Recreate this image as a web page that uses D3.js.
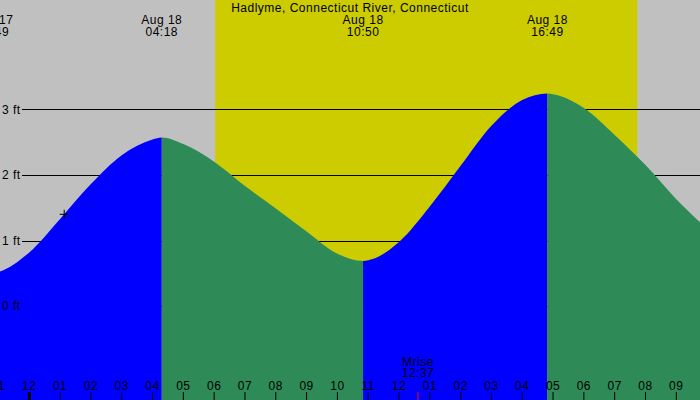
<!DOCTYPE html>
<html>
<head>
<meta charset="utf-8">
<script src="https://cdn.jsdelivr.net/npm/d3@7"></script>
<style>
  html, body { margin: 0; padding: 0; background: #fff; }
  svg { display: block; font-family: "Liberation Sans", Arial, sans-serif; letter-spacing: 0.5px; }
</style>
</head>
<body>
<div id="chart"></div>
<script>
const title = "Hadlyme, Connecticut River, Connecticut";

// high / low tide events
const extremeTimes = ["2023-08-17T22:49", "2023-08-18T04:18", "2023-08-18T10:50", "2023-08-18T16:49"];
const extremeFeet = [0.50, 2.57, 0.69, 3.24];

// hourly water level (ft) starting Aug 17 23:00
const hourStart = "2023-08-17T23:00";
const hourlyFeet = [0.52, 0.82, 1.33, 1.86, 2.30, 2.54, 2.47, 2.20, 1.83, 1.49, 1.14, 0.80,
  0.70, 0.98, 1.52, 2.14, 2.75, 3.14, 3.23, 3.02, 2.61, 2.15, 1.63, 1.18];

const sunriseTime = "2023-08-18T06:02";
const sunsetTime = "2023-08-18T19:44";
const moonriseTime = "2023-08-18T12:37";
const markerTime = "2023-08-18T01:08";
const markerFeet = 1.40;

const feetTicks = [0, 1, 2, 3];

const width = 700, height = 400;
const parse = d3.timeParse("%Y-%m-%dT%H:%M");

// merge hourly readings with the extremes
const t0 = parse(hourStart);
const points = hourlyFeet.map((v, i) => ({ date: d3.timeHour.offset(t0, i), ft: v }))
  .concat(extremeTimes.map((t, i) => ({ date: parse(t), ft: extremeFeet[i] })))
  .sort((a, b) => a.date - b.date);

const x = d3.scaleTime()
  .domain([parse("2023-08-18T00:00"), parse("2023-08-18T21:00")])
  .range([29.3, 676.3]);

const y = d3.scaleLinear()
  .domain([0, 3])
  .range([306.2, 109.3]);

const svg = d3.select("#chart")
  .append("svg")
  .attr("width", width)
  .attr("height", height);

// background (night)
svg.append("rect")
  .attr("width", width)
  .attr("height", height)
  .attr("fill", "#c0c0c0");

// daylight
svg.append("rect")
  .attr("x", x(parse(sunriseTime)))
  .attr("y", 0)
  .attr("width", x(parse(sunsetTime)) - x(parse(sunriseTime)))
  .attr("height", height)
  .attr("fill", "#cccc00");

// grid lines
svg.append("g")
  .selectAll("line")
  .data(feetTicks)
  .join("line")
  .attr("x1", 22)
  .attr("x2", width)
  .attr("y1", d => Math.round(y(d)) + 0.5)
  .attr("y2", d => Math.round(y(d)) + 0.5)
  .attr("stroke", "#000")
  .attr("stroke-width", 1);

// rising / falling phases between the extremes
const ext = extremeTimes.map((t, i) => ({ date: parse(t), ft: extremeFeet[i] }));
const phases = [];
for (let i = 0; i <= ext.length; i++) {
  const a = i === 0 ? -1000 : x(ext[i - 1].date);
  const b = i === ext.length ? width + 1000 : x(ext[i].date);
  let rising;
  if (i < ext.length && i > 0) rising = ext[i].ft > ext[i - 1].ft;
  else if (i === 0) rising = ext[0].ft > ext[1].ft;
  else rising = ext[i - 1].ft < ext[i - 2].ft;
  phases.push({ a, b, rising });
}

const area = d3.area()
  .x(d => x(d.date))
  .y0(height)
  .y1(d => y(d.ft))
  .curve(d3.curveMonotoneX);

const defs = svg.append("defs");
phases.forEach((p, i) => {
  defs.append("clipPath")
    .attr("id", "phase" + i)
    .append("rect")
    .attr("x", p.a)
    .attr("y", 0)
    .attr("width", p.b - p.a)
    .attr("height", height);
  svg.append("path")
    .datum(points)
    .attr("clip-path", "url(#phase" + i + ")")
    .attr("d", area)
    .attr("fill", p.rising ? "#0000ff" : "#2e8b57");
});

// feet labels
svg.append("g")
  .style("font-size", "12px")
  .selectAll("text")
  .data(feetTicks)
  .join("text")
  .attr("x", 2)
  .attr("y", d => y(d))
  .attr("dy", "0.35em")
  .text(d => d + " ft");

// title
svg.append("text")
  .attr("x", width / 2)
  .attr("y", 12)
  .attr("text-anchor", "middle")
  .style("font-size", "12px")
  .text(title);

// extreme labels
const fmtDay = d3.timeFormat("%b %d");
const fmtTime = d3.timeFormat("%H:%M");
const extLabels = svg.append("g")
  .style("font-size", "12px")
  .attr("text-anchor", "middle")
  .selectAll("g")
  .data(ext)
  .join("g");
extLabels.append("text")
  .attr("x", d => x(d.date))
  .attr("y", 24)
  .text(d => fmtDay(d.date));
extLabels.append("text")
  .attr("x", d => x(d.date))
  .attr("y", 36)
  .text(d => fmtTime(d.date));

// hour ticks
const hours = d3.timeHour.range(parse("2023-08-17T22:00"), parse("2023-08-18T23:00"));
const fmtHour = d3.timeFormat("%I");
const hourG = svg.append("g");
hourG.selectAll("line")
  .data(hours)
  .join("line")
  .attr("x1", d => x(d))
  .attr("x2", d => x(d))
  .attr("y1", 392)
  .attr("y2", height)
  .attr("stroke", "#000")
  .attr("stroke-width", d => d.getHours() === 0 ? 3 : 1);
hourG.selectAll("text")
  .data(hours)
  .join("text")
  .attr("x", d => x(d))
  .attr("y", 390)
  .attr("text-anchor", "middle")
  .style("font-size", "12px")
  .text(d => fmtHour(d));

// moonrise
const mr = parse(moonriseTime);
svg.append("line")
  .attr("x1", x(mr))
  .attr("x2", x(mr))
  .attr("y1", 392)
  .attr("y2", height)
  .attr("stroke", "#ff0000")
  .attr("stroke-width", 1);
svg.append("text")
  .attr("x", x(mr))
  .attr("y", 366)
  .attr("text-anchor", "middle")
  .style("font-size", "12px")
  .text("Mrise");
svg.append("text")
  .attr("x", x(mr))
  .attr("y", 377)
  .attr("text-anchor", "middle")
  .style("font-size", "12px")
  .text(fmtTime(mr));

// current position marker
const mx = x(parse(markerTime)), my = y(markerFeet);
svg.append("path")
  .attr("d", `M${mx - 4.5},${my}H${mx + 4.5}M${mx},${my - 4.5}V${my + 4.5}`)
  .attr("stroke", "#000")
  .attr("stroke-width", 1);
</script>
</body>
</html>
